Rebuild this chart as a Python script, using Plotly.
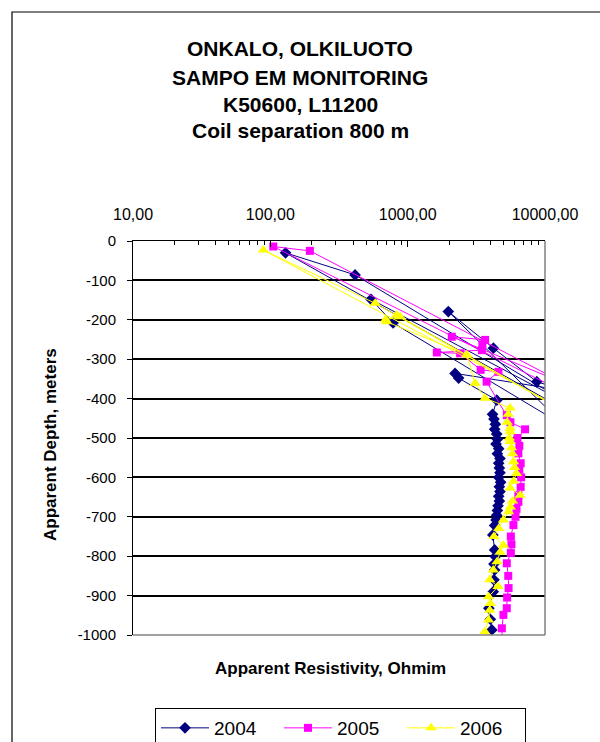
import plotly.graph_objects as go

# ---------------- data ----------------
years = ["2004", "2005", "2006"]

res_2004 = [16000, 129, 414, 16000, 541, 783, 14000, 1977, 4210, 8710, 14000,
            2213, 2350, 4457, 4150, 4250, 4350, 4300, 4450, 4500, 4400, 4600,
            4500, 4700, 4600, 4650, 4700, 4600, 4750, 4650, 4700, 4600, 4650,
            4550, 4500, 4450, 4400, 4300, 4170, 4300, 4350, 4250, 4300, 4250,
            4200, 3900, 4000, 4100]
depth_2004 = [-440, -30, -86, -420, -148, -208, -470, -179, -272, -357, -380,
              -336, -348, -404, -440, -452, -465, -478, -490, -503, -515, -527,
              -540, -552, -564, -576, -588, -600, -612, -624, -636, -648, -660,
              -672, -684, -696, -708, -722, -746, -784, -801, -820, -835, -860,
              -890, -932, -960, -987]

res_2005 = [16000, 105, 194, 14000, 2094, 3664, 3500, 3470, 1630, 2410, 3400,
            4580, 3760, 5270, 5600, 7160, 6300, 6500, 6400, 6650, 6500, 6700,
            6650, 6400, 6400, 6200, 6100, 5890, 5640, 5700, 5640, 5270, 5400,
            5430, 5300, 5270, 4980, 4850, 4900]
depth_2005 = [-395, -14, -25, -362, -243, -251, -262, -277, -283, -285, -327,
              -332, -357, -442, -460, -478, -500, -520, -539, -564, -580, -600,
              -624, -645, -662, -680, -700, -721, -750, -770, -792, -818, -850,
              -881, -905, -932, -949, -983, -1030]

res_2006 = [16000, 89, 580, 15000, 832, 880, 690, 705, 2690, 3100, 3660, 5570,
            5400, 5300, 5570, 5570, 5500, 5570, 5700, 5800, 5900, 6000, 6200,
            5900, 5570, 6600, 5800, 5600, 5430, 4980, 4600, 4250, 4980, 4700,
            4480, 4200, 3960, 4550, 3880, 4000, 3960, 3880, 3650]
depth_2006 = [-440, -23, -158, -440, -188, -192, -200, -205, -289, -361, -399,
              -424, -440, -460, -475, -484, -500, -509, -525, -540, -560, -575,
              -590, -610, -627, -645, -660, -675, -687, -708, -730, -750, -772,
              -790, -814, -835, -860, -877, -903, -920, -937, -962, -992]

x_tickvals = [10, 100, 1000, 10000]
x_ticktext = ["10,00", "100,00", "1000,00", "10000,00"]
y_tickvals = [0, -100, -200, -300, -400, -500, -600, -700, -800, -900, -1000]
y_ticktext = ["0", "-100", "-200", "-300", "-400", "-500", "-600", "-700",
              "-800", "-900", "-1000"]

title_lines = ["ONKALO, OLKILUOTO", "SAMPO EM MONITORING", "K50600, L11200",
               "Coil separation 800 m"]
x_title = "Apparent Resistivity, Ohmim"
y_title = "Apparent Depth, meters"

# ---------------- styling ----------------
FONT = "Liberation Sans, Arial, sans-serif"
W, H = 600, 742
L, R, T, B = 133, 545, 241, 635   # plot area pixel edges


def px_x(p):
    return (p - L) / (R - L)


def px_y(p):
    return (B - p) / (B - T)


styles = {
    "2004": dict(color="#000080", symbol="diamond", size=9),
    "2005": dict(color="#FF00FF", symbol="square", size=8),
    "2006": dict(color="#FFFF00", symbol="triangle-up", size=10),
}
series = {"2004": (res_2004, depth_2004), "2005": (res_2005, depth_2005),
          "2006": (res_2006, depth_2006)}

fig = go.Figure()
for yr in years:
    xs, ys = series[yr]
    st = styles[yr]
    fig.add_trace(go.Scatter(
        x=xs, y=ys, mode="lines+markers", name=yr,
        line=dict(color=st["color"], width=1),
        marker=dict(symbol=st["symbol"], size=st["size"], color=st["color"],
                    line=dict(width=0)),
    ))

minor_vals = [m * 10 ** e for e in (1, 2, 3) for m in range(2, 10)]

fig.update_layout(
    width=W, height=H,
    margin=dict(l=L, r=W - R, t=T, b=H - B, pad=0, autoexpand=False),
    paper_bgcolor="white", plot_bgcolor="white",
    font=dict(family=FONT, color="black", size=15),
    showlegend=True,
    legend=dict(orientation="h", xref="container", yref="container",
                x=155 / W, xanchor="left", y=1 - 708 / H, yanchor="top",
                bordercolor="black", borderwidth=1, bgcolor="white",
                font=dict(size=19, family=FONT), itemwidth=48,
                entrywidth=60, entrywidthmode="pixels", tracegroupgap=0),
    xaxis=dict(type="log", range=[1, 4], side="top",
               tickmode="array", tickvals=x_tickvals, ticktext=x_ticktext,
               ticks="inside", ticklen=6, tickcolor="black", tickwidth=1,
               showline=True, linecolor="black", linewidth=1,
               showgrid=False, zeroline=False, ticklabelstandoff=14,
               tickfont=dict(size=16),
               minor=dict(ticks="inside", ticklen=4, tickcolor="black",
                          tickvals=minor_vals, showgrid=False)),
    yaxis=dict(range=[-1000, 0], tickmode="array", tickvals=y_tickvals,
               ticktext=y_ticktext, ticks="outside", ticklen=5,
               tickcolor="black", showline=True, linecolor="black",
               linewidth=1, showgrid=True, gridcolor="black", gridwidth=1.5,
               zeroline=False, ticklabelstandoff=8, tickfont=dict(size=15)),
)

# plot-area right and bottom edge (gray) and outer chart border
fig.add_shape(type="line", xref="paper", yref="paper", x0=1, x1=1, y0=0, y1=1,
              line=dict(color="#808080", width=1.5))
fig.add_shape(type="line", xref="paper", yref="paper", x0=0, x1=1, y0=0, y1=0,
              line=dict(color="#808080", width=1.5))
fig.add_shape(type="rect", xref="paper", yref="paper",
              x0=px_x(12), x1=px_x(620), y0=px_y(770), y1=px_y(12),
              line=dict(color="black", width=1.2), layer="below")

for i, (txt, yp) in enumerate(zip(title_lines, [48, 77, 104, 131])):
    fig.add_annotation(text="<b>%s</b>" % txt, xref="paper", yref="paper",
                       x=px_x(300), y=px_y(yp), showarrow=False,
                       xanchor="center", yanchor="middle",
                       font=dict(size=21, family=FONT))

fig.add_annotation(text="<b>%s</b>" % x_title, xref="paper", yref="paper",
                   x=px_x(330), y=px_y(668), showarrow=False,
                   xanchor="center", yanchor="middle",
                   font=dict(size=17, family=FONT))
fig.add_annotation(text="<b>%s</b>" % y_title, xref="paper", yref="paper",
                   x=px_x(50), y=px_y(445), showarrow=False, textangle=-90,
                   xanchor="center", yanchor="middle",
                   font=dict(size=17, family=FONT))

fig.write_html("out.html")
